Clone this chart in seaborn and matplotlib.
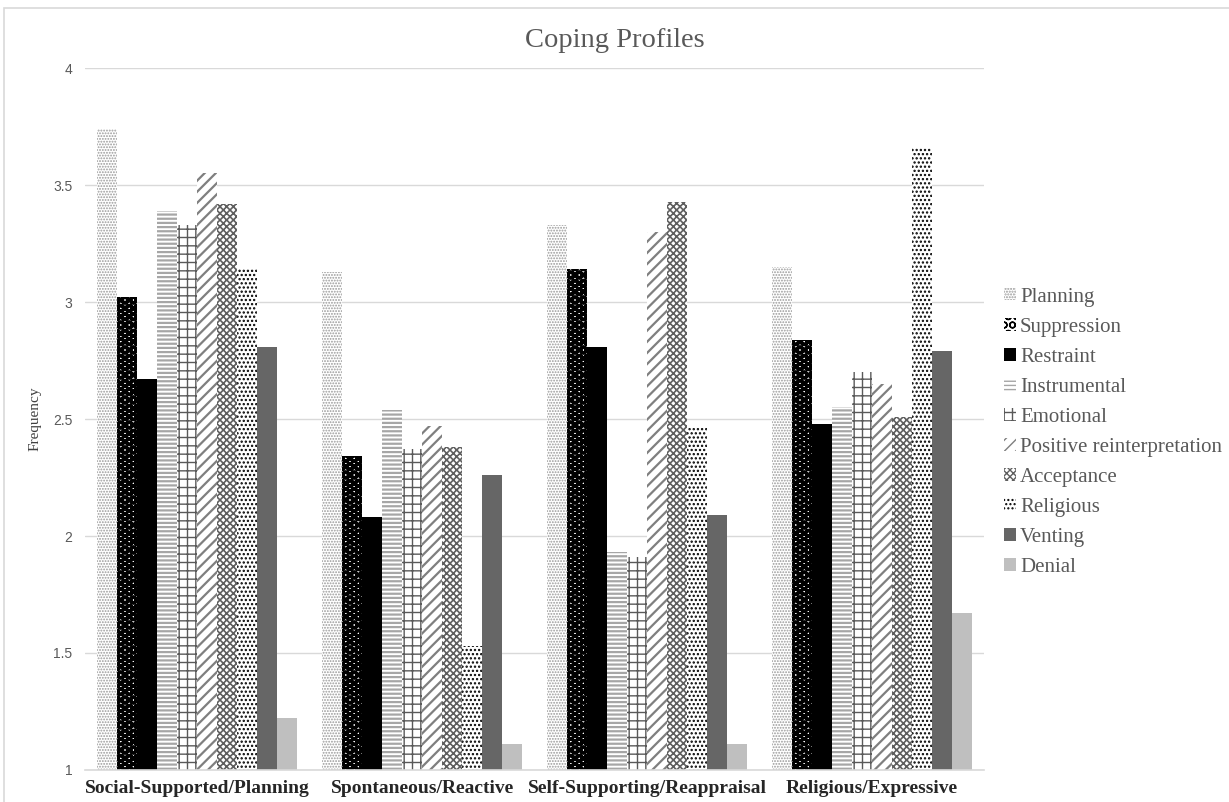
import matplotlib
matplotlib.use('Agg')
import matplotlib.pyplot as plt
from matplotlib.patches import Patch, Rectangle
import seaborn as sns
import pandas as pd

# Coping profiles - mean frequency of each strategy per profile
profiles = ['Social-Supported/Planning', 'Spontaneous/Reactive',
            'Self-Supporting/Reappraisal', 'Religious/Expressive']
strategies = ['Planning', 'Suppression', 'Restraint', 'Instrumental', 'Emotional',
              'Positive reinterpretation', 'Acceptance', 'Religious', 'Venting', 'Denial']

planning = [3.74, 3.13, 3.33, 3.15]
suppression = [3.02, 2.34, 3.14, 2.84]
restraint = [2.67, 2.08, 2.81, 2.48]
instrumental = [3.39, 2.54, 1.93, 2.55]
emotional = [3.33, 2.37, 1.91, 2.70]
positive = [3.55, 2.47, 3.30, 2.65]
acceptance = [3.42, 2.38, 3.43, 2.51]
religious = [3.14, 1.53, 2.46, 3.66]
venting = [2.81, 2.26, 2.09, 2.79]
denial = [1.22, 1.11, 1.11, 1.67]

yticks = [1, 1.5, 2, 2.5, 3, 3.5, 4]
ytick_labels = ['1', '1.5', '2', '2.5', '3', '3.5', '4']

series = [planning, suppression, restraint, instrumental, emotional,
          positive, acceptance, religious, venting, denial]
rows = []
for name, vals in zip(strategies, series):
    for prof, v in zip(profiles, vals):
        rows.append({'profile': prof, 'strategy': name, 'value': v})
df = pd.DataFrame(rows)

# (face colour, hatch, hatch colour, hatch linewidth)
styles = {
    'Planning': ('white', '......', '#999999', 0.9),
    'Suppression': ('white', 'OO', 'black', 2.4),
    'Restraint': ('black', '', 'black', 1.0),
    'Instrumental': ('white', '----', '#a6a6a6', 1.6),
    'Emotional': ('white', '++', '#595959', 1.0),
    'Positive reinterpretation': ('white', '///', '#7f7f7f', 1.6),
    'Acceptance': ('white', 'xxxxx', '#5f5f5f', 1.2),
    'Religious': ('white', '....', 'black', 1.1),
    'Venting': ('#666666', '', '#666666', 1.0),
    'Denial': ('#bfbfbf', '', '#bfbfbf', 1.0),
}

sns.set_style('white')
plt.rcParams['hatch.linewidth'] = 1.0

fig = plt.figure(figsize=(12.29, 8.02), dpi=100)
ax = fig.add_axes([0.069, 0.04, 0.732, 0.875])

sns.barplot(data=df, x='profile', y='value', hue='strategy', order=profiles,
            hue_order=strategies, width=0.89, ax=ax, legend=False)


def style_patch(p, name):
    fc, hatch, hc, hlw = styles[name]
    p.set_facecolor(fc)
    p.set_edgecolor(hc)
    p.set_linewidth(0)
    p.set_hatch(hatch)
    if hasattr(p, 'set_hatch_linewidth'):
        p.set_hatch_linewidth(hlw)


for cont, name in zip(ax.containers, strategies):
    for bar in cont:
        style_patch(bar, name)

ax.set_ylim(1, 4)
ax.set_yticks(yticks)
ax.set_yticklabels(ytick_labels, fontsize=10, color='#595959', family='Liberation Sans')
ax.yaxis.grid(True, color='#d9d9d9', linewidth=1)
ax.set_axisbelow(True)
ax.tick_params(axis='y', length=0, pad=9)
ax.tick_params(axis='x', length=0, pad=7)
for lab in ax.get_xticklabels():
    lab.set_family('Liberation Serif')
    lab.set_fontweight('bold')
    lab.set_fontsize(14)
for s in ['top', 'right', 'left']:
    ax.spines[s].set_visible(False)
ax.spines['bottom'].set_color('#d9d9d9')
ax.spines['bottom'].set_linewidth(1.2)
ax.set_xlabel('')
ax.set_ylabel('Frequency', family='Liberation Serif', fontsize=11, color='#404040', labelpad=8)

fig.text(0.5, 0.95, 'Coping Profiles', ha='center', va='center',
         family='Liberation Serif', fontsize=20.5, color='#595959')

handles = []
for name in strategies:
    h = Patch(label=name)
    style_patch(h, name)
    handles.append(h)
fig.legend(handles=handles, loc='center left', bbox_to_anchor=(0.802, 0.461),
           frameon=False, handlelength=0.55, handleheight=0.55, handletextpad=0.2,
           labelspacing=0.53, prop={'family': 'Liberation Serif', 'size': 15},
           labelcolor='#595959')

# outer chart frame
fig.patches.append(Rectangle((0.003, -0.02), 1.2, 1.01, transform=fig.transFigure,
                             fill=False, edgecolor='#d9d9d9', linewidth=1.2))

fig.savefig('out.png', dpi=100)
